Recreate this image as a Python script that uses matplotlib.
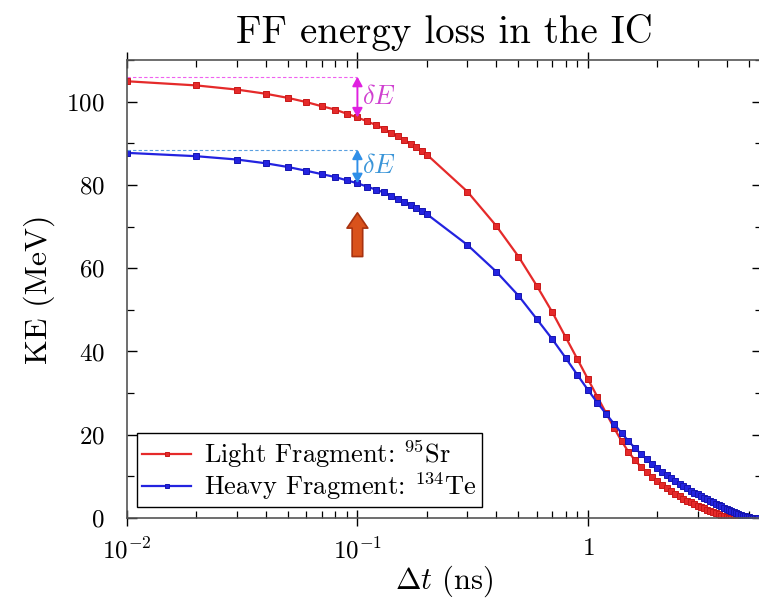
import numpy as np
import matplotlib
matplotlib.use('Agg')
import matplotlib.pyplot as plt
from matplotlib.ticker import FixedLocator, FixedFormatter, LogLocator, NullFormatter, MultipleLocator

plt.rcParams['font.family'] = 'serif'
plt.rcParams['font.serif'] = ['cmr10']
plt.rcParams['mathtext.fontset'] = 'cm'
plt.rcParams['axes.unicode_minus'] = False
plt.rcParams['axes.formatter.use_mathtext'] = True

# time of flight (ns)
dt_ns = [0.01, 0.02, 0.03, 0.04, 0.05, 0.06, 0.07, 0.08, 0.09, 0.10,
         0.11, 0.12, 0.13, 0.14, 0.15, 0.16, 0.17, 0.18, 0.19, 0.20,
         0.3, 0.4, 0.5, 0.6, 0.7, 0.8, 0.9, 1.0,
         1.1, 1.2, 1.3, 1.4, 1.5, 1.6, 1.7, 1.8, 1.9, 2.0,
         2.1, 2.2, 2.3, 2.4, 2.5, 2.6, 2.7, 2.8, 2.9, 3.0,
         3.1, 3.2, 3.3, 3.4, 3.5, 3.6, 3.7, 3.8, 3.9, 4.0,
         4.1, 4.2, 4.3, 4.4, 4.5, 4.6, 4.7, 4.8, 4.9, 5.0,
         5.1, 5.2, 5.3, 5.4, 5.5]

# kinetic energy (MeV), light fragment 95Sr
ke_light = [104.9, 103.9, 102.9, 101.9, 100.9, 99.9, 98.9, 98.1, 97.1, 96.2,
            95.3, 94.4, 93.5, 92.5, 91.7, 90.8, 89.9, 89.0, 88.2, 87.3,
            78.4, 70.2, 62.8, 55.8, 49.5, 43.5, 38.2, 33.4,
            29.1, 25.2, 21.6, 18.5, 15.9, 13.9, 12.3, 11.0, 9.9, 8.9,
            8.0, 7.2, 6.5, 5.8, 5.2, 4.6, 4.2, 3.8, 3.4, 3.0,
            2.7, 2.4, 2.0, 1.7, 1.4, 1.1, 0.85, 0.6, 0.4, 0.25,
            0.12, 0.05, 0.0, 0.0, 0.0, 0.0, 0.0, 0.0, 0.0, 0.0,
            0.0, 0.0, 0.0, 0.0, 0.0]

# kinetic energy (MeV), heavy fragment 134Te
ke_heavy = [87.7, 86.9, 86.1, 85.2, 84.3, 83.4, 82.6, 81.9, 81.1, 80.4,
            79.6, 78.9, 78.2, 77.4, 76.7, 76.0, 75.2, 74.5, 73.8, 73.0,
            65.6, 59.2, 53.4, 47.8, 43.0, 38.5, 34.4, 30.8,
            27.7, 25.0, 22.6, 20.4, 18.5, 16.8, 15.4, 14.1, 13.0, 12.0,
            11.1, 10.3, 9.5, 8.8, 8.2, 7.6, 7.1, 6.6, 6.1, 5.7,
            5.3, 4.9, 4.5, 4.1, 3.8, 3.4, 3.1, 2.8, 2.5, 2.2,
            1.95, 1.7, 1.45, 1.2, 1.0, 0.8, 0.6, 0.45, 0.3, 0.2,
            0.1, 0.05, 0.0, 0.0, 0.0]

# energy-loss annotation: reference energy and value at marked time
dE_time = 0.1
dE_light = (106.0, 96.2)
dE_heavy = (88.5, 80.4)

red = '#e52a2a'
blue = '#2323e0'

fig = plt.figure(figsize=(7.59, 6.02), dpi=100)
ax = fig.add_axes([0.1673, 0.1395, 0.8367, 0.7608])

ax.plot(dt_ns, ke_light, '-', color=red, lw=1.6, marker='s', ms=4.3,
        mfc=red, mec='#c81818', mew=0.7, label=r'Light Fragment: $^{95}$Sr')
ax.plot(dt_ns, ke_heavy, '-', color=blue, lw=1.6, marker='s', ms=4.3,
        mfc=blue, mec='#1515b0', mew=0.7, label=r'Heavy Fragment: $^{134}$Te')

# dashed reference lines and delta-E arrows
ax.plot([dt_ns[0], dE_time], [dE_light[0]] * 2, ls=(0, (3, 2)), lw=0.8, color='#f060f0')
ax.plot([dt_ns[0], dE_time], [dE_heavy[0]] * 2, ls=(0, (3, 2)), lw=0.8, color='#5aa0e0')
ax.annotate('', xy=(dE_time, dE_light[1]), xytext=(dE_time, dE_light[0]),
            arrowprops=dict(arrowstyle='<|-|>,head_width=0.3,head_length=0.55',
                            color='#e020e0', lw=1.4, shrinkA=0, shrinkB=0))
ax.annotate('', xy=(dE_time, dE_heavy[1]), xytext=(dE_time, dE_heavy[0]),
            arrowprops=dict(arrowstyle='<|-|>,head_width=0.3,head_length=0.55',
                            color='#2f8fe8', lw=1.4, shrinkA=0, shrinkB=0))
ax.text(0.105, (dE_light[0] + dE_light[1]) / 2, r'$\delta E$', color='#d040d0',
        fontsize=19, va='center', ha='left')
ax.text(0.105, (dE_heavy[0] + dE_heavy[1]) / 2, r'$\delta E$', color='#3a95d8',
        fontsize=19, va='center', ha='left')

# orange marker arrow pointing up at dt = 0.1 ns
ax.annotate('', xy=(dE_time, 73.3), xytext=(dE_time, 62.8),
            arrowprops=dict(arrowstyle='simple,head_width=0.75,head_length=0.55,tail_width=0.38',
                            fc='#d9521c', ec='#a8320f', lw=1.2, mutation_scale=20,
                            shrinkA=0, shrinkB=0))

ax.set_xscale('log')
ax.set_xlim(0.01, 5.7)
ax.set_ylim(0, 110)

ax.xaxis.set_major_locator(FixedLocator([0.01, 0.1, 1]))
ax.xaxis.set_major_formatter(FixedFormatter([r'$10^{-2}$', r'$10^{-1}$', r'$1$']))
ax.xaxis.set_minor_locator(LogLocator(base=10, subs=np.arange(2, 10), numticks=20))
ax.xaxis.set_minor_formatter(NullFormatter())
ax.yaxis.set_major_locator(MultipleLocator(20))
ax.yaxis.set_minor_locator(MultipleLocator(10))

ax.tick_params(axis='both', which='major', labelsize=18, direction='in', length=7,
               width=1, top=True, right=True, pad=8)
ax.tick_params(axis='y', which='major', pad=16)
ax.tick_params(axis='x', which='major', direction='inout', length=12)
ax.tick_params(axis='both', which='minor', direction='in', length=5, width=0.9,
               top=True, right=True)
for sp in ax.spines.values():
    sp.set_color('#555555')
    sp.set_linewidth(1.2)

ax.set_xlabel(r'$\Delta t$ (ns)', fontsize=22, labelpad=0)
ax.set_ylabel('KE (MeV)', fontsize=23, labelpad=8)
ax.set_title('FF energy loss in the IC', fontsize=28, pad=12)

leg = ax.legend(loc='lower left', bbox_to_anchor=(0.0157, 0.024), borderaxespad=0,
                fontsize=19, handlelength=1.85, handletextpad=0.5, numpoints=1,
                fancybox=False, framealpha=1, edgecolor='black',
                borderpad=0.2, labelspacing=0.0, markerscale=0.7)
leg.get_frame().set_linewidth(1.0)

fig.savefig('out.png', dpi=100)
